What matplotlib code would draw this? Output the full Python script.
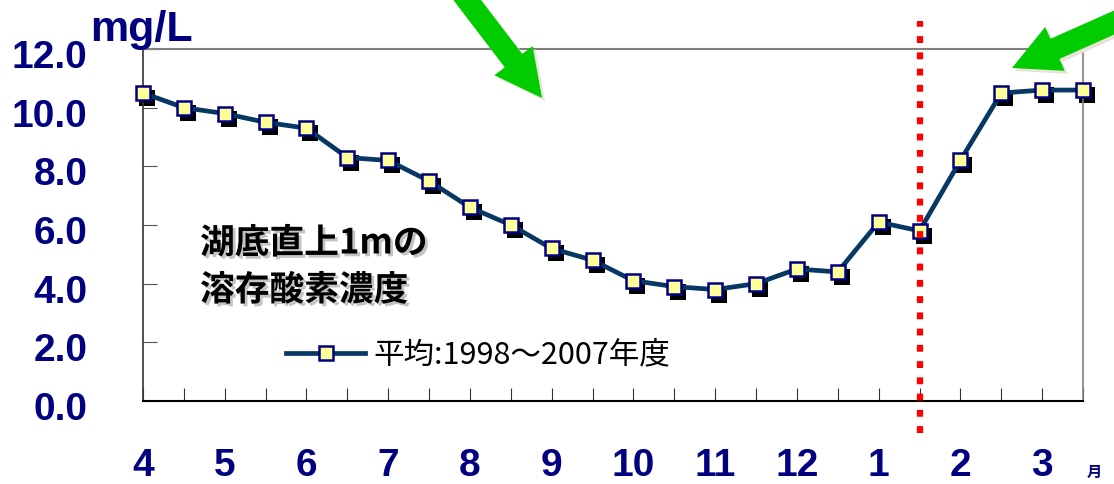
import numpy as np
import matplotlib.pyplot as plt
from matplotlib import patheffects
from matplotlib.patches import FancyArrow
from matplotlib.font_manager import FontProperties
from matplotlib.transforms import IdentityTransform, ScaledTranslation

W, H = 1114, 484

# monthly (half-month) mean dissolved oxygen, 1 m above the lake bottom
months = ['4', '5', '6', '7', '8', '9', '10', '11', '12', '1', '2', '3']
do_avg = [10.5, 10.0, 9.8, 9.5, 9.3, 8.3, 8.2, 7.5, 6.6, 6.0, 5.2, 4.8,
          4.1, 3.9, 3.8, 4.0, 4.5, 4.4, 6.1, 5.8, 8.2, 10.5, 10.6, 10.6]
y_ticks = [0, 2, 4, 6, 8, 10, 12]
y_labels = ['0.0', '2.0', '4.0', '6.0', '8.0', '10.0', '12.0']
series_label = '平均:1998～2007年度'
divider = 19

navy = '#000080'
jp = 'Noto Sans CJK JP'
latin = 'Liberation Sans'

fig = plt.figure(figsize=(W / 100, H / 100), dpi=100)
ax = fig.add_axes([143 / W, 83 / H, 940 / W, 352 / H])

x = np.arange(len(do_avg))

# drop shadow under the markers
shadow = ScaledTranslation(4 / 100, -5 / 100, fig.dpi_scale_trans)
ax.plot(x, do_avg, 's', ms=11, color='black', mew=0,
        transform=ax.transData + shadow, clip_on=False, zorder=2)
ax.plot(x, do_avg, '-s', color='#073763', lw=3.4, ms=10, mfc='#ffff99',
        mec=navy, mew=1.8, clip_on=False, zorder=3, label=series_label)

# red dotted divider running past the frame
ax.plot([divider, divider], [-1.1, 12.95], color='red', lw=4.5,
        linestyle=(0, (1.1, 1.5)), clip_on=False, zorder=5)

ax.set_xlim(0, len(do_avg) - 1)
ax.set_ylim(0, 12)
ax.set_xticks(x)
ax.set_xticklabels([months[i // 2] if i % 2 == 0 else '' for i in x])
ax.set_yticks(y_ticks)
ax.set_yticklabels(y_labels)

ax.tick_params(axis='x', direction='in', length=9.5, width=0.8,
               color='#333333', pad=34, labelsize=28, labelcolor=navy)
ax.tick_params(axis='y', direction='in', length=10, width=0.8,
               color='#555555', pad=40, labelsize=28, labelcolor=navy)
for lab in ax.get_xticklabels() + ax.get_yticklabels():
    lab.set_fontfamily(latin)
    lab.set_fontweight('bold')
down = ScaledTranslation(0, -5 / 100, fig.dpi_scale_trans)
for lab in ax.get_yticklabels():
    lab.set_transform(lab.get_transform() + down)

ax.spines['left'].set_color('#333333')
ax.spines['left'].set_linewidth(1.2)
ax.spines['bottom'].set_color('black')
ax.spines['bottom'].set_linewidth(1.5)
ax.spines['top'].set_color('#808080')
ax.spines['top'].set_linewidth(1.5)
ax.spines['right'].set_color('#808080')
ax.spines['right'].set_linewidth(1.2)

ax.legend(loc='center left', bbox_to_anchor=(0.152, 0.131), frameon=False,
          handlelength=2.6, borderpad=0, borderaxespad=0, handletextpad=0.25,
          prop=FontProperties(family=[jp, 'DejaVu Sans'], size=22))

# units and month marker
fig.text(90 / W, 1 - 41 / H, 'mg/L', fontsize=31, fontweight='bold',
         family=latin, color=navy, ha='left', va='baseline')
fig.text(1094 / W, 1 - 472 / H, '月', fontsize=11, fontweight='bold',
         family=jp, color=navy, ha='center', va='center')

# chart caption with soft shadow
cap_fx = [patheffects.withSimplePatchShadow(offset=(2, -2),
                                            shadow_rgbFace='#888888',
                                            alpha=0.5)]
for text, yp in [('湖底直上1mの', 243), ('溶存酸素濃度', 290)]:
    fig.text(200 / W, 1 - yp / H, text, fontsize=25, fontweight='bold',
             family=[jp, 'DejaVu Sans'], color='black', ha='left',
             va='center', path_effects=cap_fx)


# green arrows, given in image pixels (y down)
def green_arrow(x0, y0, x1, y1):
    for dx, dy, col in [(3, -3, '#e8e4d8'), (0, 0, '#00cc00')]:
        a = FancyArrow(x0 + dx, H - y0 + dy, x1 - x0, -(y1 - y0),
                       width=22, head_width=48, head_length=47,
                       length_includes_head=True, transform=IdentityTransform(),
                       color=col, lw=0)
        fig.add_artist(a)


green_arrow(458, -12, 542, 98)
green_arrow(1140, 11, 1012, 68)

fig.savefig('out.png', dpi=100)
